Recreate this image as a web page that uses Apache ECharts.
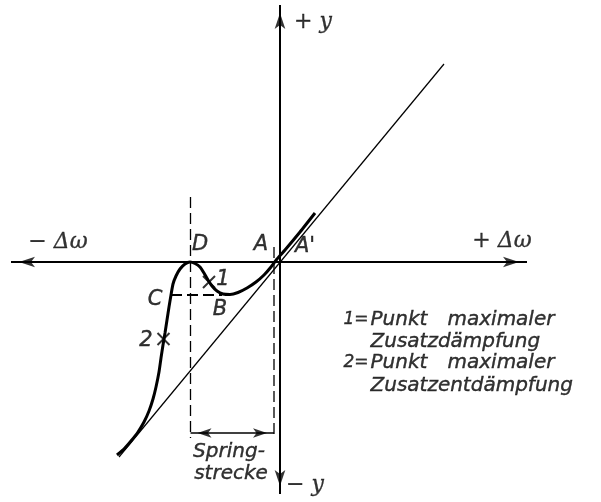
<!DOCTYPE html>
<html><head><meta charset="utf-8">
<script src="https://cdn.jsdelivr.net/npm/echarts@6/dist/echarts.min.js"></script>
<style>html,body{margin:0;padding:0;background:#fff}#chart{width:601px;height:502px}</style>
</head><body><div id="chart"></div>
<script>
// Characteristic y(Δω) of the damping curve (thick line), arbitrary units
const curveX = [-16.3,-15.6,-14.9,-14.2,-13.6,-13.1,-12.7,-12.4,-12.1,-11.9,-11.7,-11.5,-11.3,-11.1,-10.9,-10.7,-10.4,-10.0,-9.5,-9.0,-8.5,-8.0,-7.6,-7.2,-6.8,-6.3,-5.7,-5.0,-4.2,-3.3,-2.4,-1.6,-0.9,-0.3,0.5,2.0,3.5];
const curveY = [-19.3,-18.7,-17.9,-17.0,-16.0,-14.9,-13.7,-12.5,-11.0,-9.6,-8.3,-7.1,-5.8,-4.5,-3.3,-2.2,-1.4,-0.7,-0.2,0,-0.15,-0.5,-1.1,-1.8,-2.4,-2.9,-3.2,-3.25,-3.05,-2.6,-2.0,-1.3,-0.5,0.3,1.2,3.0,4.9];
// Straight reference line through the origin
const refX = [-16.1, 16.4];
const refY = [-19.5, 19.8];
// Marked points 1 and 2 on the curve
const markX = [-7.1, -11.65];
const markY = [-2.0, -7.7];
// Characteristic positions
const xD = -8.95, xA = -0.6, yCB = -3.3, xC = -10.9, xB = -5.8;
const dashTopD = 6.5, dashTopA = 1.5, dashBottom = -17.6, yJump = -17.1;
// Axis extents
const axisXLeft = -26.9, axisXRight = 24.7, axisYTop = 25.7, axisYBottom = -23.2;

const zip = (xs, ys) => xs.map((x, i) => [x, ys[i]]);
const ink = '#000';
const font = { fontFamily: 'DejaVu Sans', fontStyle: 'italic', fontSize: 20, color: ink, textBorderColor: ink, textBorderWidth: 0.4 };
const big = Object.assign({}, font, { fontSize: 21 });
const small = Object.assign({}, font, { fontSize: 17 });
const serif = { fontFamily: 'DejaVu Serif', fontStyle: 'italic', fontSize: 22, color: ink, textBorderColor: ink, textBorderWidth: 0.3 };

// Text annotations: [text, x, y, align, style]
const notes = [
  ['D', -8.0, 1.7, 'c', big],
  ['A', -1.9, 1.7, 'c', big],
  ["A'", 2.5, 1.5, 'c', big],
  ['C', -12.5, -3.8, 'c', big],
  ['B', -6.0, -4.8, 'c', big],
  ['1', -5.7, -1.8, 'c', big],
  ['2', -13.4, -7.9, 'c', big],
  ['− Δω', -22.2, 2.0, 'c', serif],
  ['+ Δω', 22.2, 2.1, 'c', serif],
  ['+ y', 3.3, 24.0, 'c', serif],
  ['− y', 2.5, -22.3, 'c', serif],
  ['Spring-', -5.1, -19.0, 'c', font],
  ['strecke', -4.9, -21.2, 'c', font],
  ['1=', 6.3, -5.8, 'l', small],
  ['Punkt', 9.0, -5.8, 'l', font],
  ['maximaler', 16.7, -5.8, 'l', font],
  ['Zusatzdämpfung', 9.0, -8.0, 'l', font],
  ['2=', 6.3, -10.1, 'l', small],
  ['Punkt', 9.0, -10.1, 'l', font],
  ['maximaler', 16.7, -10.1, 'l', font],
  ['Zusatzentdämpfung', 9.0, -12.4, 'l', font]
];

// Arrow heads: [x, y, rotation, w, h]
const arrows = [
  [axisXRight - 0.8, 0, -90, 8, 16],
  [axisXLeft + 0.8, 0, 90, 8, 16],
  [0, axisYTop - 0.8, 0, 8, 16],
  [0, axisYBottom + 0.8, 180, 8, 16],
  [xD + 0.7, yJump, 90, 7, 14],
  [xA - 0.7, yJump, -90, 7, 14]
];

const solid = (data, w) => ({
  type: 'line', data, showSymbol: false, silent: true, animation: false,
  lineStyle: { color: ink, width: w }
});
const dashed = (data, w) => ({
  type: 'line', data, showSymbol: false, silent: true, animation: false,
  lineStyle: { color: ink, width: w, type: [11, 5] }
});

const chart = echarts.init(document.getElementById('chart'), null, { renderer: 'canvas' });
chart.setOption({
  backgroundColor: '#fff',
  animation: false,
  grid: { left: 0, right: 0, top: 0, bottom: 0 },
  xAxis: { type: 'value', min: -28, max: 32.1, show: false },
  yAxis: { type: 'value', min: -24, max: 26.2, show: false },
  series: [
    solid([[axisXLeft, 0], [axisXRight, 0]], 2),
    solid([[0, axisYBottom], [0, axisYTop]], 2),
    solid(zip(refX, refY), 1.2),
    dashed([[xD, dashTopD], [xD, dashBottom]], 1.3),
    dashed([[xA, dashTopA], [xA, dashBottom]], 1.3),
    dashed([[xC, yCB], [xB, yCB]], 2),
    solid([[xD, yJump], [xA, yJump]], 1.5),
    Object.assign(solid(zip(curveX, curveY), 3), { smooth: 0.2 }),
    {
      type: 'scatter', silent: true, animation: false,
      data: zip(markX, markY),
      symbol: 'path://M0 0L10 10M10 0L0 10', symbolSize: 12,
      itemStyle: { color: 'rgba(0,0,0,0)', borderColor: ink, borderWidth: 2 }
    },
    {
      type: 'scatter', silent: true, animation: false,
      data: arrows.map(a => ({ value: [a[0], a[1]], symbolRotate: a[2], symbolSize: [a[3], a[4]] })),
      symbol: 'arrow',
      itemStyle: { color: ink }
    },
    {
      type: 'scatter', silent: true, animation: false,
      symbolSize: 1, itemStyle: { color: 'rgba(0,0,0,0)' },
      data: notes.map(n => ({
        value: [n[1], n[2]],
        label: Object.assign({
          show: true, formatter: n[0],
          position: n[3] === 'l' ? 'right' : 'inside',
          distance: 0, align: n[3] === 'l' ? 'left' : 'center', verticalAlign: 'middle'
        }, n[4])
      }))
    }
  ]
});
</script>
</body></html>
